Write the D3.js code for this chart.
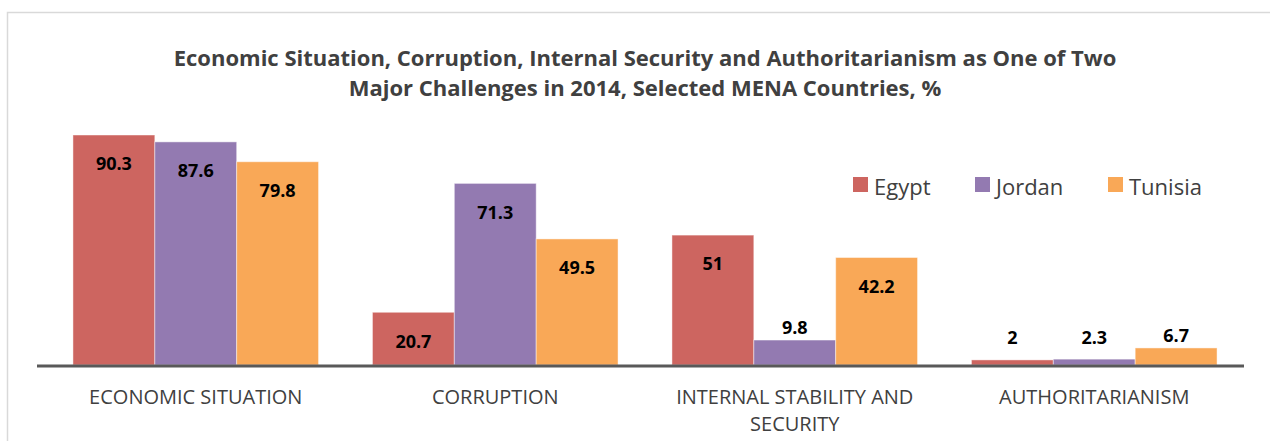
<!DOCTYPE html>
<html>
<head>
<meta charset="utf-8">
<script src="https://cdn.jsdelivr.net/npm/d3@7/dist/d3.min.js"></script>
<style>
  body { margin: 0; background: #fff; }
  text { font-family: "Open Sans", Lato, sans-serif; }
</style>
</head>
<body>
<div id="chart"></div>
<script>
var categories = [['ECONOMIC SITUATION'], ['CORRUPTION'], ['INTERNAL STABILITY AND', 'SECURITY'], ['AUTHORITARIANISM']];
var seriesNames = ['Egypt', 'Jordan', 'Tunisia'];
var egypt = [90.3, 20.7, 51, 2];
var jordan = [87.6, 71.3, 9.8, 2.3];
var tunisia = [79.8, 49.5, 42.2, 6.7];
var colors = ['#cd6560', '#937ab1', '#f9a857'];

var W = 1270, H = 441;
var svg = d3.select('#chart').append('svg').attr('width', W).attr('height', H);

// frame
svg.append('path')
    .attr('d', 'M 7.5 441 L 7.5 12.5 L 1270 12.5')
    .style('fill', 'none').style('stroke', '#d9d9d9').style('stroke-width', 1.5);

var title = svg.append('text').attr('text-anchor', 'middle')
    .style('font-size', '22px').style('font-weight', 'bold').style('fill', '#404040');
title.append('tspan').attr('x', 645).attr('y', 66)
    .text('Economic Situation, Corruption, Internal Security and Authoritarianism as One of Two');
title.append('tspan').attr('x', 645).attr('y', 96)
    .text('Major Challenges in 2014, Selected MENA Countries, %');

var series = [egypt, jordan, tunisia];
var idx = d3.range(categories.length);

var x0 = d3.scaleBand().domain(idx).range([46, 1244]).paddingInner(0.18).paddingOuter(0.09);
var x1 = d3.scaleBand().domain(d3.range(series.length)).range([0, x0.bandwidth()]);
var y = d3.scaleLinear().domain([0, 100]).range([365, 365 - 254.7]);

var groups = svg.selectAll('g.grp').data(idx).enter().append('g')
    .attr('class', 'grp')
    .attr('transform', function(i) { return 'translate(' + x0(i) + ',0)'; });

groups.selectAll('rect').data(function(i) {
    return series.map(function(s, k) { return { k: k, v: s[i] }; });
  }).enter().append('rect')
    .attr('x', function(d) { return x1(d.k); })
    .attr('y', function(d) { return y(d.v); })
    .attr('width', x1.bandwidth())
    .attr('height', function(d) { return y(0) - y(d.v); })
    .style('fill', function(d) { return colors[d.k]; })
    .style('stroke', 'rgba(255,255,255,0.45)').style('stroke-width', 1);

groups.selectAll('text.val').data(function(i) {
    return series.map(function(s, k) { return { k: k, v: s[i] }; });
  }).enter().append('text')
    .attr('class', 'val')
    .attr('text-anchor', 'middle')
    .attr('x', function(d) { return x1(d.k) + x1.bandwidth() / 2; })
    .attr('y', function(d) {
      if (d.v > 15) return y(d.v) + 29;
      return Math.min(y(d.v), y(6)) - 12;
    })
    .attr('dy', '0.35em')
    .style('font-size', '18px').style('font-weight', 'bold').style('fill', '#000')
    .text(function(d) { return d.v; });

// axis line
svg.append('line')
    .attr('x1', 37).attr('x2', 1244).attr('y1', 366).attr('y2', 366)
    .style('stroke', '#595959').style('stroke-width', 3);

var labels = svg.selectAll('text.cat').data(idx).enter().append('text')
    .attr('class', 'cat')
    .attr('text-anchor', 'middle')
    .attr('x', function(i) { return x0(i) + x0.bandwidth() / 2; })
    .attr('y', 404)
    .style('font-size', '20px').style('fill', '#404040');
labels.selectAll('tspan').data(function(i) { return categories[i]; }).enter().append('tspan')
    .attr('x', function() { var i = d3.select(this.parentNode).datum(); return x0(i) + x0.bandwidth() / 2; })
    .attr('dy', function(d, j) { return j === 0 ? 0 : 27; })
    .text(function(d) { return d; });

// legend
var legendX = [853, 975, 1108];
var legend = svg.selectAll('g.leg').data(seriesNames).enter().append('g')
    .attr('class', 'leg')
    .attr('transform', function(d, k) { return 'translate(' + legendX[k] + ',177)'; });
legend.append('rect').attr('width', 15).attr('height', 15)
    .style('fill', function(d, k) { return colors[k]; });
legend.append('text').attr('x', 21).attr('y', 18)
    .style('font-size', '22px').style('fill', '#404040')
    .text(function(d) { return d; });
</script>
</body>
</html>
